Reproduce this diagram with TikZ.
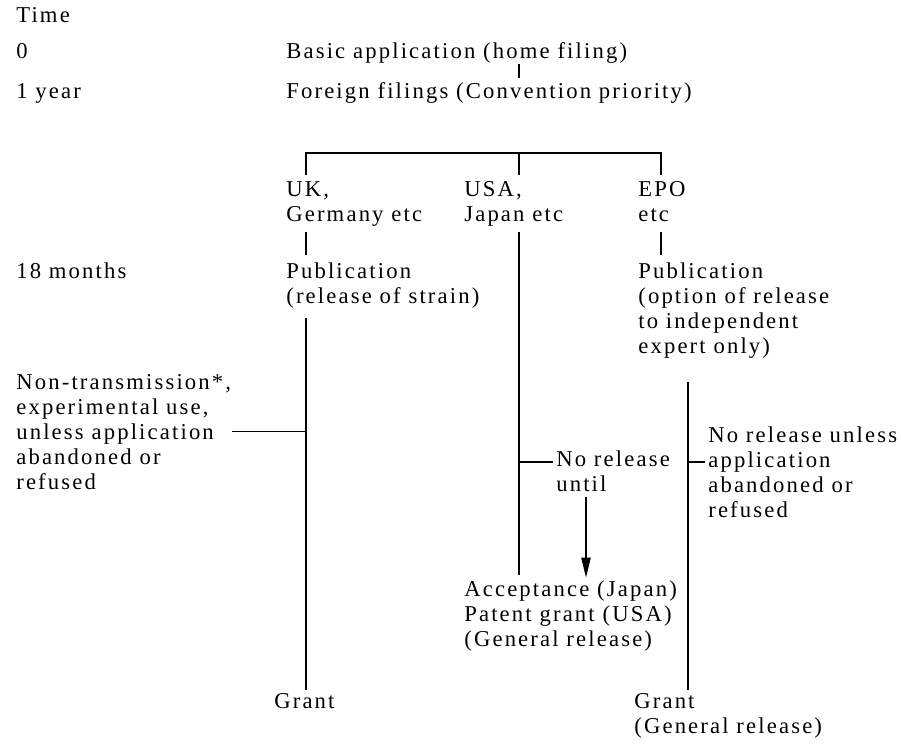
\documentclass[tikz,border=0pt]{standalone}
\usepackage{fontspec}
\setmainfont{Liberation Serif}[LetterSpace=9.5]
\usetikzlibrary{positioning,arrows.meta,calc}

\begin{document}
\begin{tikzpicture}[x=0.75pt,y=0.75pt,yscale=-1,xscale=1,
    txt/.style={anchor=base west,inner sep=0pt,outer sep=1pt,align=left,font=\fontsize{17pt}{18.75pt}\selectfont},
    link/.style={line width=1pt}]
    \useasboundingbox (0,0) rectangle (901,747);

    \coordinate (cUK) at (306,0);
    \coordinate (cUS) at (519,0);
    \coordinate (cEPO) at (661,0);
    \coordinate (cEPOb) at (688,0);
    \coordinate (cArr) at (586,0);
    \coordinate (split) at (519,153);

    \node[txt] (time) at (15,22) {Time};
    \node[txt] (zero) at (15,58) {0};
    \node[txt] (oneyear) at (15,98) {1 year};
    \node[txt] (eighteen) at (15,278) {18 months};
    \node[txt] (nontrans) at (15,489) {Non-transmission*,\\experimental use,\\unless application\\abandoned or\\refused};

    \node[txt] (basic) at (285,58) {Basic application (home filing)};
    \node[txt] (foreign) at (285,98) {Foreign filings (Convention priority)};
    \node[txt] (ukhead) at (285,221) {UK,\\Germany etc};
    \node[txt] (usahead) at (463,221) {USA,\\Japan etc};
    \node[txt] (epohead) at (637,221) {EPO\\etc};
    \node[txt] (ukpub) at (285,303) {Publication\\(release of strain)};
    \node[txt] (epopub) at (637,353) {Publication\\(option of release\\to independent\\expert only)};
    \node[txt] (norel) at (555,491) {No release\\until};
    \node[txt] (norelunl) at (707,517) {No release unless\\application\\abandoned or\\refused};
    \node[txt] (accept) at (463,646) {Acceptance (Japan)\\Patent grant (USA)\\(General release)};
    \node[txt] (ukgrant) at (273,708) {Grant};
    \node[txt] (epogrant) at (633,733) {Grant\\(General release)};

    \coordinate (norelJ) at ($(norel.base west)+(-2,-29)$);
    \coordinate (norelunlJ) at ($(norelunl.base west)+(-2,-55)$);

    \draw[link,shorten >=2pt] (basic.south -| cUS) -- (foreign.north -| cUS);
    \draw[link,shorten <=3.5pt,shorten >=3.5pt] (ukhead.north -| cUK) |- (split) -| (epohead.north -| cEPO);
    \draw[link,shorten >=3.5pt] (split) -- (usahead.north -| cUS);

    \draw[link,shorten <=3.6pt,shorten >=4.5pt] (ukhead.south -| cUK) -- (ukpub.north -| cUK);
    \draw[link,shorten <=7pt,shorten >=1.3pt] (ukpub.south -| cUK) -- (ukgrant.north -| cUK);
    \draw[link] (nontrans.east) -- (nontrans.east -| cUK);

    \draw[link,shorten <=3.7pt,shorten >=3pt] (usahead.south -| cUS) -- (accept.north -| cUS);
    \draw[link] (norelJ) -- (norelJ -| cUS);
    \draw[link,-{Triangle[length=15pt,width=7pt]},shorten <=3.5pt,shorten >=1pt] (norel.south -| cArr) -- (accept.north -| cArr);

    \draw[link,shorten <=7.3pt,shorten >=4.5pt] (epohead.south -| cEPO) -- (epopub.north -| cEPO);
    \draw[link,shorten <=17pt,shorten >=1.3pt] (epopub.south -| cEPOb) -- (epogrant.north -| cEPOb);
    \draw[link] (norelunlJ) -- (norelunlJ -| cEPOb);
\end{tikzpicture}
\end{document}
